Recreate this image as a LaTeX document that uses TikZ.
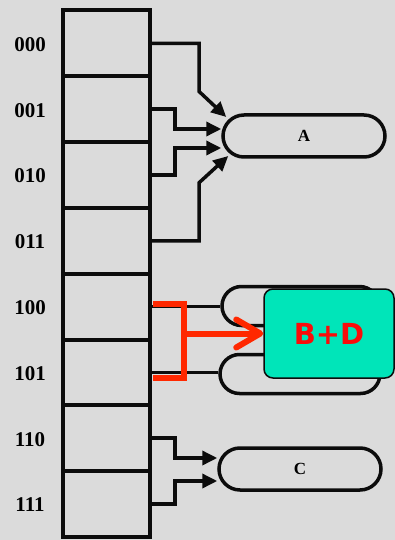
\documentclass[tikz,border=0pt]{standalone}
\usepackage{fontspec}
\setmainfont{Liberation Serif}
\newfontfamily\dvsans{DejaVu Sans}
\usetikzlibrary{arrows.meta,shapes.misc,calc}
\definecolor{bg}{RGB}{219,219,219}
\definecolor{ink}{RGB}{12,12,12}
\definecolor{redo}{RGB}{255,40,0}
\definecolor{redt}{RGB}{250,12,10}
\definecolor{teal}{RGB}{0,229,185}
\tikzset{
  cell/.style={draw=ink,line width=4pt,rectangle,minimum width=86.5pt,minimum height=65.8pt,inner sep=0pt},
  lbl/.style={font=\fontsize{21}{24}\selectfont\bfseries,inner sep=0pt},
  pill/.style={draw=ink,line width=3.5pt,rounded rectangle,inner sep=0pt,font=\fontsize{17}{20}\selectfont\bfseries},
  conn/.style={draw=ink,line width=3.5pt,line join=miter},
  arr/.style={conn,-{Triangle[length=15pt,width=14pt]}},
  redl/.style={draw=redo,line width=6pt},
  bdbox/.style={draw=ink,line width=1.5pt,fill=teal,rounded corners=9pt,minimum width=130pt,minimum height=89pt,inner sep=0pt,
    font=\dvsans\fontsize{29}{33}\selectfont\bfseries,text=redt}
}
\begin{document}
\begin{tikzpicture}[x=1pt,y=-1pt]
\fill[bg] (0,0) rectangle (395,540);
\useasboundingbox (0,0) rectangle (395,540);
% column of cells
\foreach \i/\t in {0/000,1/001,2/010,3/011,4/100,5/101,6/110,7/111}{
  \node[cell] (c\i) at (106.25,{10.5+65.8*(\i+0.5)}) {};
  \node[lbl] (l\i) at (30,{10.5+65.8*(\i+0.5)+1}) {\t};
}
% pills
\node[pill,minimum width=162pt,minimum height=42pt] (A) at (304,136) {A};
\node[pill,minimum width=157pt,minimum height=39pt] (B) at (300.5,306) {};
\node[pill,minimum width=160pt,minimum height=39pt] (D) at (300,374) {};
\node[pill,minimum width=162pt,minimum height=42pt] (C) at (300,469) {C};
% connectors to A
\draw[arr] (c0.east) -- ++(47.5,0) -- ++(0,48) -- ($(A.west)+(5,-19)$);
\draw[arr] (c1.east) -- ++(23.5,0) |- ($(A.west)+(0,-7)$);
\draw[arr] (c2.east) -- ++(23.5,0) |- ($(A.west)+(0,12)$);
\draw[arr] (c3.east) -- ++(47.5,0) -- ++(0,-58) -- ($(A.west)+(7,20)$);
% connectors to B and D
\draw[conn] (c4.east) -- (B.west |- c4.east);
\draw[conn] (c5.east) -- (D.west |- c5.east);
% connectors to C
\draw[arr] (c6.east) -- ++(23.5,0) |- ($(C.west)+(0,-11)$);
\draw[arr] (c7.east) -- ++(23.5,0) |- ($(C.west)+(0,12)$);
% overlay
\node[bdbox] (bd) at (329,333.5) {B+D};
\coordinate (br1) at (153,304);
\coordinate (br2) at (153,378);
\coordinate (brm) at (184,333.5);
\draw[redl,line join=miter] (br1) -- ++(31,0) -- ++(0,74) -- (br2);
\draw[redl,-{Straight Barb[length=24pt,width=28pt,round]}] (brm) -- (bd.west);
\end{tikzpicture}
\end{document}
